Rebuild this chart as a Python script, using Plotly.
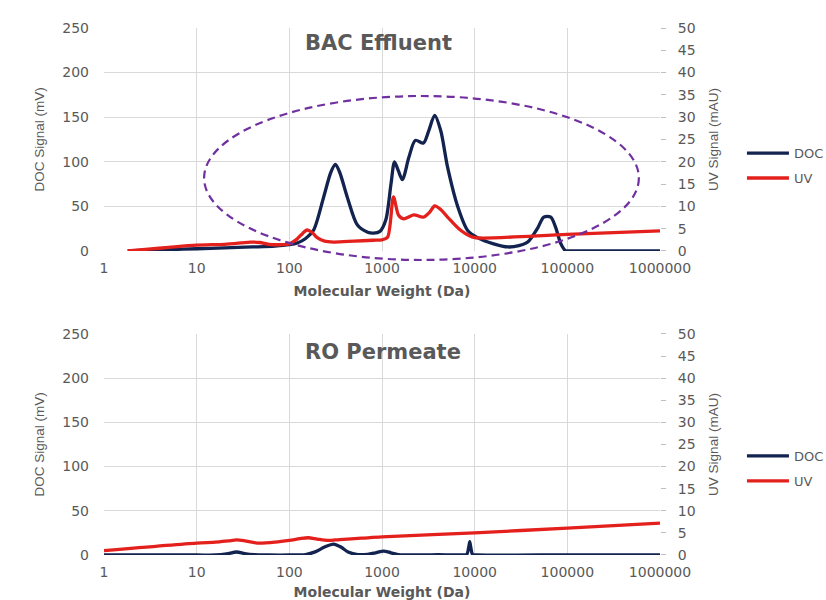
import plotly.graph_objects as go

# Molecular weight tick marks (Da)
tick_vals = [1, 10, 100, 1000, 10000, 100000, 1000000]
tick_text = ["1", "10", "100", "1000", "10000", "100000", "1000000"]

# BAC effluent - DOC detector (mV)
bac_doc_mw = [1.8, 3, 5, 10, 20, 40, 70, 100, 122, 150, 182, 234, 280, 314, 350, 423,
              543, 700, 810, 950, 1100, 1250, 1365, 1500, 1660, 1950, 2290, 2800, 3200,
              3700, 4300, 5100, 6600, 8400, 10700, 16000, 22900, 30000, 37400, 48000,
              55700, 66300, 75100, 85100, 96300, 100000, 200000, 1000000]
bac_doc = [0, 0.8, 1.5, 2.5, 3.5, 4.5, 5.5, 7, 9, 14, 23, 60, 88, 97, 88, 60,
           29, 21, 20, 22, 35, 75, 100, 90, 80, 105, 124, 121, 135,
           152, 135, 94, 49, 23, 15, 8, 4.5, 6, 10, 26,
           38, 38, 26, 8, 0, 0, 0, 0]

# BAC effluent - UV254 detector (mAU)
bac_uv_mw = [1.8, 3, 5, 10, 20, 30, 38, 48, 60, 80, 100, 120, 140, 155, 175, 200, 240,
             300, 500, 800, 1000, 1150, 1330, 1510, 1710, 2200, 2800, 3300, 3700, 4300,
             5100, 7000, 9500, 12000, 100000, 1000000]
bac_uv = [0, 0.4, 0.8, 1.3, 1.5, 1.8, 2.0, 1.9, 1.5, 1.4, 1.6, 2.6, 4.0, 4.7, 4.2, 3.0, 2.2,
          2.0, 2.2, 2.4, 2.5, 3.1, 12.1, 8.0, 7.2, 8.1, 7.6, 8.8, 10.1, 9.3,
          7.6, 4.7, 3.1, 2.9, 3.7, 4.5]

# RO permeate - DOC detector (mV)
ro_doc_mw = [1, 10, 16, 21, 27, 33, 42, 60, 100, 150, 190, 240, 300, 360, 430, 550, 700,
             850, 1040, 1250, 1500, 2500, 4000, 7500, 8200, 8600, 8850, 9100, 9500, 10500,
             50000, 1000000]
ro_doc = [0, 0, 0, 1.2, 3.4, 1.5, 0.3, 0, 0, 0.5, 3.5, 9, 12.4, 9, 3.5, 0.5, 0.8,
          2.5, 4.5, 2.5, 0.5, 0, 0.5, 0, 0.5, 8, 15, 8, 0.5, 0,
          0, 0]

# RO permeate - UV254 detector (mAU)
ro_uv_mw = [1, 10, 16, 22, 27, 33, 45, 70, 100, 130, 160, 200, 260, 350, 600, 1000,
            10000, 100000, 1000000]
ro_uv = [1.0, 2.7, 2.9, 3.2, 3.4, 3.2, 2.7, 2.9, 3.3, 3.7, 3.9, 3.6, 3.3, 3.5, 3.8, 4.1,
         5.0, 6.1, 7.2]

NAVY = "#13234f"
RED = "#e3201c"
GREY_TXT = "#595959"
GRID = "#d9d9d9"
TICK_FONT = dict(family="DejaVu Sans", size=14, color=GREY_TXT)
YTITLE_FONT = dict(family="Liberation Sans", size=13.5, color=GREY_TXT)
XTITLE_FONT = dict(family="DejaVu Sans", size=14, color=GREY_TXT, weight="bold")
LEGEND_FONT = dict(family="DejaVu Sans", size=13, color=GREY_TXT)

fig = go.Figure()
line_kw = dict(mode="lines", line_shape="spline")

fig.add_trace(go.Scatter(x=bac_doc_mw, y=bac_doc, name="DOC", xaxis="x", yaxis="y",
                         legend="legend", legendgroup="bac_doc",
                         line=dict(color=NAVY, width=3.3, smoothing=0.8), **line_kw))
fig.add_trace(go.Scatter(x=bac_uv_mw, y=bac_uv, name="UV", xaxis="x", yaxis="y2",
                         legend="legend", legendgroup="bac_uv",
                         line=dict(color=RED, width=3.3, smoothing=0.8), **line_kw))
fig.add_trace(go.Scatter(x=ro_doc_mw, y=ro_doc, name="DOC", xaxis="x2", yaxis="y3",
                         legend="legend2", legendgroup="ro_doc",
                         line=dict(color=NAVY, width=3.3, smoothing=0.8), **line_kw))
fig.add_trace(go.Scatter(x=ro_uv_mw, y=ro_uv, name="UV", xaxis="x2", yaxis="y4",
                         legend="legend2", legendgroup="ro_uv",
                         line=dict(color=RED, width=3.3, smoothing=0.8), **line_kw))

xaxis_kw = dict(type="log", range=[0, 6], tickvals=tick_vals, ticktext=tick_text,
                showgrid=True, gridcolor=GRID, gridwidth=1, tickfont=TICK_FONT,
                showline=False, zeroline=False, ticks="", ticklabelstandoff=7)
yleft_kw = dict(range=[0, 250], dtick=50, showgrid=True, gridcolor=GRID, gridwidth=1,
                tickfont=TICK_FONT, zeroline=False, ticks="", ticklabelstandoff=14)
yright_kw = dict(range=[0, 50], dtick=5, showgrid=False, side="right", tickfont=TICK_FONT,
                 zeroline=False, ticks="outside", ticklen=5, tickcolor="#bfbfbf",
                 ticklabelstandoff=9)

top_dom = [0.5769, 1.0]
bot_dom = [0.0, 0.4194]

legend_kw = dict(xanchor="left", yanchor="top", bgcolor="rgba(0,0,0,0)",
                 font=LEGEND_FONT, itemwidth=42, tracegroupgap=5)

fig.update_layout(
    width=826, height=600,
    margin=dict(l=104, r=166, t=28, b=45, autoexpand=False),
    paper_bgcolor="white", plot_bgcolor="white",
    xaxis=dict(domain=[0, 1], anchor="y",
               title=dict(text="Molecular Weight (Da)", font=XTITLE_FONT, standoff=11),
               **xaxis_kw),
    yaxis=dict(domain=top_dom, anchor="x",
               title=dict(text="DOC Signal (mV)", font=YTITLE_FONT, standoff=14),
               **yleft_kw),
    yaxis2=dict(overlaying="y", anchor="x",
                title=dict(text="UV Signal (mAU)", font=YTITLE_FONT, standoff=13),
                **yright_kw),
    xaxis2=dict(domain=[0, 1], anchor="y3",
                title=dict(text="Molecular Weight (Da)", font=XTITLE_FONT, standoff=11),
                **xaxis_kw),
    yaxis3=dict(domain=bot_dom, anchor="x2",
                title=dict(text="DOC Signal (mV)", font=YTITLE_FONT, standoff=14),
                **yleft_kw),
    yaxis4=dict(overlaying="y3", anchor="x2",
                title=dict(text="UV Signal (mAU)", font=YTITLE_FONT, standoff=13),
                **yright_kw),
    legend=dict(x=1.1474, y=0.791, **legend_kw),
    legend2=dict(x=1.1474, y=0.2164, **legend_kw),
    showlegend=True,
)

# Panel headings
fig.add_annotation(text="<b>BAC Effluent</b>", xref="paper", yref="paper", x=0.493, y=0.9715,
                   yanchor="middle", showarrow=False,
                   font=dict(family="DejaVu Sans", size=21, color=GREY_TXT))
fig.add_annotation(text="<b>RO Permeate</b>", xref="paper", yref="paper", x=0.502, y=0.385,
                   yanchor="middle", showarrow=False,
                   font=dict(family="DejaVu Sans", size=21, color=GREY_TXT))

# Dashed highlight around the main organic fractions
fig.add_shape(type="circle", xref="paper", yref="paper", x0=0.18, x1=0.962, y0=0.5598, y1=0.871,
              line=dict(color="#7030a0", width=2.2, dash="8px,5px"), fillcolor="rgba(0,0,0,0)")

fig.write_html("out.html")
